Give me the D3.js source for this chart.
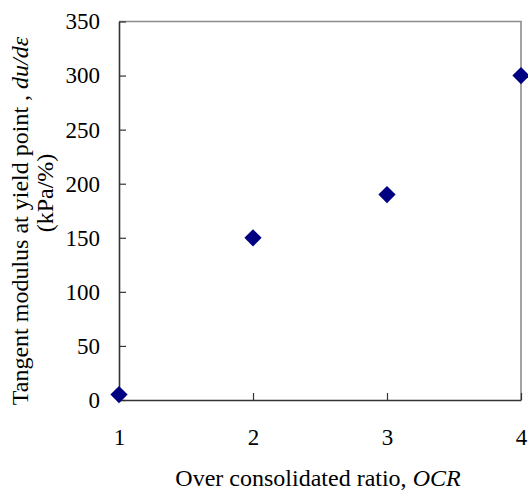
<!DOCTYPE html>
<html>
<head>
<meta charset="utf-8">
<script src="https://cdn.jsdelivr.net/npm/d3@7"></script>
<style>
  body { margin: 0; background: #fff; }
  svg text { font-family: "Liberation Serif", "Times New Roman", serif; fill: #000; }
</style>
</head>
<body>
<svg id="chart" width="528" height="493"></svg>
<script>
// data
var ocr = [1, 2, 3, 4];
var modulus = [5, 150, 190, 300];
var xTicks = [1, 2, 3, 4];
var yTicks = [0, 50, 100, 150, 200, 250, 300, 350];

var margin = {top: 21.5, right: 7, bottom: 93, left: 119},
    width = 528 - margin.left - margin.right,
    height = 493 - margin.top - margin.bottom;

var serif = '"Liberation Serif", "Times New Roman", serif';

var svg = d3.select('#chart');
var g = svg.append('g')
    .attr('transform', 'translate(' + margin.left + ',' + margin.top + ')');

var x = d3.scaleLinear().domain([1, 4]).range([0, width]);
var y = d3.scaleLinear().domain([0, 350]).range([height, 0]);

// top and right frame, lighter grey
g.append('path')
    .attr('d', 'M0,0H' + width + 'V' + height)
    .attr('fill', 'none')
    .attr('stroke', '#8c8c8c')
    .attr('stroke-width', 1.6);

// axes with inward ticks
var yAxis = g.append('g')
    .call(d3.axisLeft(y).tickValues(yTicks).tickSizeInner(-7).tickSizeOuter(0).tickPadding(19));
var xAxis = g.append('g')
    .attr('transform', 'translate(0,' + height + ')')
    .call(d3.axisBottom(x).tickValues(xTicks).tickSizeInner(-7).tickSizeOuter(0).tickPadding(29)
        .tickFormat(d3.format('d')));

[xAxis, yAxis].forEach(function(a) {
    a.attr('font-family', serif).attr('font-size', 23);
    a.select('.domain').attr('stroke', '#333').attr('stroke-width', 1.6);
    a.selectAll('.tick line').attr('stroke', '#333').attr('stroke-width', 1.2);
    a.selectAll('.tick text').attr('fill', '#000');
});

// markers
var diamond = d3.symbol().type(d3.symbolDiamond2).size(190);
g.selectAll('path.pt')
    .data(ocr.map(function(d, i) { return [d, modulus[i]]; }))
    .enter().append('path')
    .attr('class', 'pt')
    .attr('d', diamond)
    .attr('fill', '#000080')
    .attr('transform', function(d) { return 'translate(' + x(d[0]) + ',' + y(d[1]) + ')'; });

// x label
var xl = svg.append('text')
    .attr('x', 318)
    .attr('y', 486)
    .attr('text-anchor', 'middle')
    .attr('font-size', 24);
xl.append('tspan').text('Over consolidated ratio, ');
xl.append('tspan').attr('font-style', 'italic').text('OCR');

// y label, two lines
var yl = svg.append('text')
    .attr('transform', 'translate(28,221) rotate(-90)')
    .attr('text-anchor', 'middle')
    .attr('font-size', 24);
yl.append('tspan').text('Tangent modulus at yield point , ');
yl.append('tspan').attr('font-style', 'italic').text('du/d\u03b5');

svg.append('text')
    .attr('transform', 'translate(53,193) rotate(-90)')
    .attr('text-anchor', 'middle')
    .attr('font-size', 24)
    .text('(kPa/%)');
</script>
</body>
</html>
